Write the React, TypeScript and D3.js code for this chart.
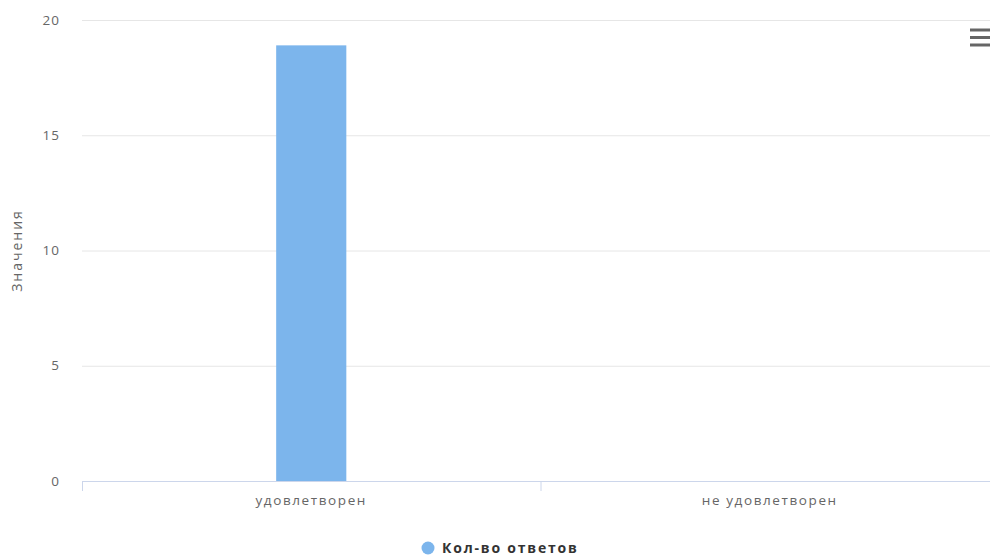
import React from "react";
import * as d3 from "d3";

const categories: string[] = ["удовлетворен", "не удовлетворен"];
const seriesName = "Кол-во ответов";
const seriesValues: number[] = [18.9, 0];
const yTicks: number[] = [0, 5, 10, 15, 20];
const yTitle = "Значения";

const W = 990;
const H = 559;
const plotLeft = 82;
const plotRight = 999;
const plotTop = 20;
const plotBottom = 481;
const color = "#7cb5ec";
const font = "'Open Sans', 'DejaVu Sans', sans-serif";

export default function App() {
  const x = d3.scaleBand<string>().domain(categories).range([plotLeft, plotRight]).padding(0);
  const y = d3.scaleLinear().domain([0, 20]).range([plotBottom, plotTop]);
  const barW = x.bandwidth() * 0.153;
  const boundaries = [plotLeft, ...categories.slice(1).map((c) => x(c) as number)];

  return (
    <div style={{ position: "fixed", left: 0, top: 0, width: W, height: H, background: "#fff" }}>
      <svg width={W} height={H} style={{ display: "block", fontFamily: font }}>
        <rect x={0} y={0} width={W} height={H} fill="#fff" />
        {yTicks.map((t) => (
          <line key={"g" + t} x1={plotLeft} x2={plotRight} y1={y(t) + 0.5} y2={y(t) + 0.5} stroke="#e6e6e6" strokeWidth={1} />
        ))}
        {yTicks.map((t) => (
          <text key={"yl" + t} x={60} y={y(t)} dy="0.35em" textAnchor="end" fontSize={13.5} letterSpacing={1} fill="#666">
            {t}
          </text>
        ))}
        <text
          transform={`translate(${17},${(plotTop + plotBottom) / 2}) rotate(-90)`}
          textAnchor="middle"
          dy="0.35em"
          fontSize={14}
          letterSpacing={2}
          fill="#666"
        >
          {yTitle}
        </text>
        {categories.map((c, i) => {
          const cx = (x(c) as number) + x.bandwidth() / 2;
          return (
            <rect
              key={"b" + c}
              x={cx - barW / 2}
              y={y(seriesValues[i])}
              width={barW}
              height={plotBottom - y(seriesValues[i])}
              fill={color}
            />
          );
        })}
        <line x1={plotLeft} x2={plotRight} y1={plotBottom + 0.5} y2={plotBottom + 0.5} stroke="#ccd6eb" strokeWidth={1} />
        {boundaries.map((b, i) => (
          <line key={"tk" + i} x1={b + 0.5} x2={b + 0.5} y1={plotBottom} y2={plotBottom + 10} stroke="#ccd6eb" strokeWidth={1} />
        ))}
        {categories.map((c) => (
          <text
            key={"xl" + c}
            x={(x(c) as number) + x.bandwidth() / 2}
            y={505}
            textAnchor="middle"
            fontSize={13.5}
            letterSpacing={1.6}
            fill="#666"
          >
            {c}
          </text>
        ))}
        <circle cx={428} cy={548} r={6.5} fill={color} />
        <text x={442} y={548} dy="0.35em" fontSize={14} letterSpacing={1.8} fontWeight="bold" fill="#333">
          {seriesName}
        </text>
        {[30, 37.5, 45].map((ly, i) => (
          <line key={"m" + i} x1={970} x2={992} y1={ly} y2={ly} stroke="#666" strokeWidth={3} />
        ))}
      </svg>
    </div>
  );
}
